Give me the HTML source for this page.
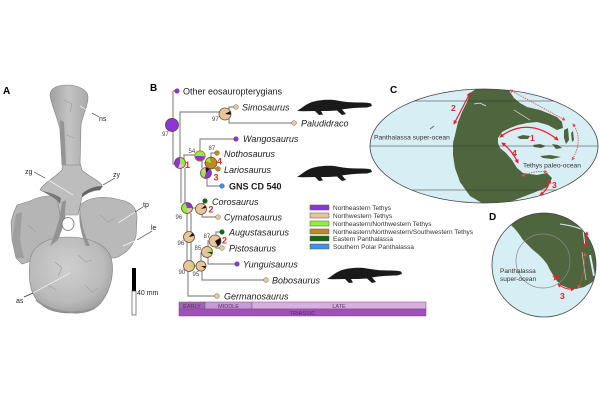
<!DOCTYPE html>
<html>
<head>
<meta charset="utf-8">
<style>
html,body{margin:0;padding:0;background:#fff;}
svg{display:block;}
text{font-family:"Liberation Sans",Arial,sans-serif;}
</style>
</head>
<body>
<svg width="600" height="400" viewBox="0 0 600 400" xmlns="http://www.w3.org/2000/svg">
<defs>
  <radialGradient id="gc" cx="0.45" cy="0.4" r="0.65">
    <stop offset="0" stop-color="#cfcfcf"/>
    <stop offset="0.7" stop-color="#bababa"/>
    <stop offset="1" stop-color="#9c9c9c"/>
  </radialGradient>
  <linearGradient id="gs" x1="0" y1="0" x2="1" y2="0">
    <stop offset="0" stop-color="#a0a0a0"/>
    <stop offset="0.5" stop-color="#c4c4c4"/>
    <stop offset="1" stop-color="#aaaaaa"/>
  </linearGradient>
  <clipPath id="cC"><ellipse cx="484" cy="146" rx="114" ry="57"/></clipPath>
  <clipPath id="cD"><circle cx="544" cy="265" r="52"/></clipPath>
  <marker id="ah" viewBox="0 0 10 10" refX="8" refY="5" markerWidth="3.6" markerHeight="3.6" orient="auto-start-reverse">
    <path d="M0,0 L10,5 L0,10 z" fill="#e8202a"/>
  </marker>
  <marker id="ahd" viewBox="0 0 10 10" refX="8" refY="5" markerWidth="4" markerHeight="4" orient="auto-start-reverse">
    <path d="M0,0 L10,5 L0,10 z" fill="#f04a55"/>
  </marker>
  <path id="sil" d="M0,12 C5,9 9,5 15,3 C22,1 32,0 40,1.5 C48,3 55,3.5 62,3.5 C66,3.5 70,3.5 74,4.5 L75,7 L70,8.5 C62,8.5 55,9 48,10 L45,10.5 L49,15 L45,16 L40,11.5 C34,12 28,12 24,12 L26,15.5 L22,16 L18,12 C12,12 6,12.5 0,12 Z" fill="#1a1a1a"/>
</defs>

<!-- ===== Panel A : vertebra ===== -->
<text x="3" y="94" font-size="10" font-weight="bold">A</text>
<g stroke="#808080" stroke-width="0.6">
  <path d="M17,205 L30,201 C40,196 52,194 62,198 C66,203 66,212 64,222 L58,240 L40,258 L22,264 L16,258 L12,240 L11,222 L14,212 Z" fill="#b5b5b5"/>
  <path d="M80,205 C88,198 100,196 112,198 L125,201 C133,204 137,210 137,218 L136,236 C133,246 126,254 115,258 L100,258 L88,245 C82,235 79,220 80,205 Z" fill="#b9b9b9"/>
  <path d="M40,190 C44,182 55,178 62,170 L63,163 L80,163 L82,170 C88,176 98,180 102,185 L100,190 C95,190 88,192 82,197 L78,215 L60,215 L57,198 C52,194 45,193 40,190 Z" fill="#bdbdbd"/>
  <path d="M50,95 C50,88 58,85 67,85 C78,85 88,90 88,97 C88,106 83,114 81,125 L80,165 L62,165 L60,130 C58,118 51,105 50,95 Z" fill="url(#gs)"/>
  <path d="M30,260 C32,245 48,237 68,237 C90,237 110,245 112,262 C114,275 110,290 103,300 C97,310 85,314 72,313 C58,313 46,310 40,303 C30,295 28,280 30,260 Z" fill="url(#gc)"/>
</g>
<path d="M42,191 C50,196 56,198 60,204 L61,198 C55,194 48,192 42,191 Z" fill="#777"/>
<path d="M82,197 C88,192 95,190 100,190 L103,186 C96,186 88,188 82,194 Z" fill="#666"/>
<path d="M66,200 L64,222 L58,240 L50,246 C56,232 60,218 62,202 Z" fill="#939393"/>
<path d="M80,205 C80,220 84,234 90,246 L86,246 C80,232 78,218 80,205 Z" fill="#939393"/>
<path d="M16,214 L22,212 L20,240 L24,258 L16,258 L12,240 Z" fill="#9e9e9e"/>
<path d="M60,120 L62,165 L66,165 L64,122 Z" fill="#959595"/>
<g fill="none" stroke="#9a9a9a" stroke-width="0.6">
  <path d="M64,100 L72,104 L70,112"/>
  <path d="M66,135 L74,138"/>
  <path d="M55,262 L62,268 L58,276"/>
  <path d="M78,255 L86,262 L92,260"/>
  <path d="M48,285 L56,290"/>
  <path d="M85,285 L92,292 L98,288"/>
  <path d="M100,215 L108,222 L115,218"/>
  <path d="M28,225 L36,232"/>
</g>
<ellipse cx="68" cy="224" rx="6" ry="6.5" fill="#fff" stroke="#6e6e6e" stroke-width="0.8"/>
<path d="M36,300 C50,312 75,316 95,308" fill="none" stroke="#929292" stroke-width="1.5"/>
<g stroke-width="0.7" fill="none">
  <line x1="80" y1="106" x2="92" y2="113" stroke="#fff"/>
  <line x1="92" y1="113" x2="99" y2="117" stroke="#333"/>
  <line x1="34" y1="172" x2="45" y2="178" stroke="#333"/>
  <line x1="45" y1="178" x2="73" y2="195" stroke="#fff"/>
  <line x1="115" y1="178" x2="103" y2="185" stroke="#333"/>
  <line x1="143" y1="207" x2="135" y2="212" stroke="#333"/>
  <line x1="135" y1="212" x2="118" y2="223" stroke="#fff"/>
  <line x1="152" y1="231" x2="137" y2="240" stroke="#333"/>
  <line x1="137" y1="240" x2="123" y2="246" stroke="#fff"/>
  <line x1="24" y1="297" x2="33" y2="293" stroke="#333"/>
  <line x1="33" y1="293" x2="70" y2="273" stroke="#fff"/>
</g>
<g font-size="7" fill="#222">
  <text x="99" y="121">ns</text>
  <text x="25" y="174">zg</text>
  <text x="113" y="177">zy</text>
  <text x="143" y="207">tp</text>
  <text x="151" y="230">le</text>
  <text x="16" y="303">as</text>
  <text x="137" y="295">40 mm</text>
</g>
<rect x="132" y="268" width="4" height="23" fill="#000"/>
<rect x="132" y="291" width="4" height="24" fill="#fff" stroke="#333" stroke-width="0.6"/>

<!-- ===== Panel B : tree ===== -->
<text x="150" y="91" font-size="10" font-weight="bold">B</text>
<g stroke="#8c8c8c" stroke-width="1.2" fill="none">
  <path d="M173,91 H177"/>
  <path d="M173,91 V164 H176"/>
  <path d="M180,158 V112 H220"/>
  <path d="M229,109 V107 H234"/>
  <path d="M229,119 V123 H292"/>
  <path d="M184,159 V155 H195"/>
  <path d="M200,151 V139 H234"/>
  <path d="M202,161 V168"/>
  <path d="M204,163 H206"/>
  <path d="M211,157 V153 H215"/>
  <path d="M214,168 L216,169"/>
  <path d="M207,179 V186 H220"/>
  <path d="M181,168 V203"/>
  <path d="M185,168 V203"/>
  <path d="M192,208 H196"/>
  <path d="M203,204 L204,203"/>
  <path d="M202,214 V217 H216"/>
  <path d="M187,213 V232"/>
  <path d="M191,213 V232"/>
  <path d="M187,242 V261"/>
  <path d="M191,242 V261"/>
  <path d="M194,266 H196"/>
  <path d="M188,271 V296 H215"/>
  <path d="M202,271 V280 H264"/>
  <path d="M201,261 V253 H202"/>
  <path d="M208,257 V264 H235"/>
  <path d="M208,247 V241 H209"/>
  <path d="M216,235 V232 H220"/>
  <path d="M216,247 V248 H220"/>
</g>

<g>
  <circle cx="172" cy="125" r="6.5" fill="#8e35d8"/>
  <circle cx="172" cy="125" r="6.5" fill="none" stroke="#6b4a3a" stroke-width="0.9"/>
  <circle cx="225" cy="114" r="6" fill="#e9c59a"/>
  <circle cx="225" cy="114" r="3" fill="none" stroke="#111" stroke-width="6" stroke-dasharray="1.9 18.85" transform="rotate(-30 225 114)"/>
  <circle cx="225" cy="114" r="6" fill="none" stroke="#6b4a3a" stroke-width="0.8"/>
  <circle cx="180" cy="163" r="5.5" fill="#8e35d8"/>
  <circle cx="180" cy="163" r="2.75" fill="none" stroke="#8ef03a" stroke-width="5.5" stroke-dasharray="5.18 17.28" transform="rotate(-90 180 163)"/>
  <circle cx="180" cy="163" r="2.75" fill="none" stroke="#e9c59a" stroke-width="5.5" stroke-dasharray="4.32 17.28" transform="rotate(18 180 163)"/>
  <circle cx="180" cy="163" r="5.5" fill="none" stroke="#6b4a3a" stroke-width="0.8"/>
  <circle cx="200" cy="156" r="5.2" fill="#8e35d8"/>
  <circle cx="200" cy="156" r="2.6" fill="none" stroke="#8ef03a" stroke-width="5.2" stroke-dasharray="8.17 16.34" transform="rotate(180 200 156)"/>
  <circle cx="200" cy="156" r="5.2" fill="none" stroke="#b07a2a" stroke-width="0.9"/>
  <circle cx="211" cy="163" r="5.8" fill="#c28a1e"/>
  <circle cx="211" cy="163" r="2.9" fill="none" stroke="#8ef03a" stroke-width="5.8" stroke-dasharray="2.73 18.22" transform="rotate(200 211 163)"/>
  <circle cx="211" cy="163" r="5.8" fill="none" stroke="#6b4a3a" stroke-width="0.8"/>
  <circle cx="206" cy="173" r="5.5" fill="#8e35d8"/>
  <circle cx="206" cy="173" r="2.75" fill="none" stroke="#8ef03a" stroke-width="5.5" stroke-dasharray="4.32 17.28" transform="rotate(110 206 173)"/>
  <circle cx="206" cy="173" r="2.75" fill="none" stroke="#e9c59a" stroke-width="5.5" stroke-dasharray="3.11 17.28" transform="rotate(200 206 173)"/>
  <circle cx="206" cy="173" r="2.75" fill="none" stroke="#111" stroke-width="5.5" stroke-dasharray="2.07 17.28" transform="rotate(265 206 173)"/>
  <circle cx="206" cy="173" r="5.5" fill="none" stroke="#6b4a3a" stroke-width="0.8"/>
  <circle cx="187" cy="208" r="5.5" fill="#e9c59a"/>
  <circle cx="187" cy="208" r="2.75" fill="none" stroke="#8ef03a" stroke-width="5.5" stroke-dasharray="7.78 17.28" transform="rotate(90 187 208)"/>
  <circle cx="187" cy="208" r="2.75" fill="none" stroke="#8e35d8" stroke-width="5.5" stroke-dasharray="5.18 17.28" transform="rotate(252 187 208)"/>
  <circle cx="187" cy="208" r="5.5" fill="none" stroke="#6b4a3a" stroke-width="0.8"/>
  <circle cx="201" cy="209" r="5.5" fill="#e9c59a"/>
  <circle cx="201" cy="209" r="2.75" fill="none" stroke="#111" stroke-width="5.5" stroke-dasharray="1.38 17.28" transform="rotate(-40 201 209)"/>
  <circle cx="201" cy="209" r="5.5" fill="none" stroke="#6b4a3a" stroke-width="0.8"/>
  <circle cx="189" cy="237" r="5.5" fill="#e9c59a"/>
  <circle cx="189" cy="237" r="2.75" fill="none" stroke="#111" stroke-width="5.5" stroke-dasharray="1.73 17.28" transform="rotate(-50 189 237)"/>
  <circle cx="189" cy="237" r="5.5" fill="none" stroke="#6b4a3a" stroke-width="0.8"/>
  <circle cx="189" cy="266" r="5.5" fill="#e9c59a"/>
  <circle cx="189" cy="266" r="2.75" fill="none" stroke="#8ef03a" stroke-width="5.5" stroke-dasharray="1.38 17.28" transform="rotate(-20 189 266)"/>
  <circle cx="189" cy="266" r="5.5" fill="none" stroke="#6b4a3a" stroke-width="0.8"/>
  <circle cx="201" cy="266" r="5" fill="#e9c59a"/>
  <circle cx="201" cy="266" r="2.5" fill="none" stroke="#111" stroke-width="5" stroke-dasharray="1.26 15.71" transform="rotate(0 201 266)"/>
  <circle cx="201" cy="266" r="5" fill="none" stroke="#6b4a3a" stroke-width="0.8"/>
  <circle cx="207" cy="252" r="5.5" fill="#e9c59a"/>
  <circle cx="207" cy="252" r="2.75" fill="none" stroke="#8ef03a" stroke-width="5.5" stroke-dasharray="2.07 17.28" transform="rotate(-40 207 252)"/>
  <circle cx="207" cy="252" r="2.75" fill="none" stroke="#111" stroke-width="5.5" stroke-dasharray="1.04 17.28" transform="rotate(3 207 252)"/>
  <circle cx="207" cy="252" r="5.5" fill="none" stroke="#6b4a3a" stroke-width="0.8"/>
  <circle cx="215" cy="241" r="6" fill="#e9c59a"/>
  <circle cx="215" cy="241" r="3" fill="none" stroke="#111" stroke-width="6" stroke-dasharray="4.71 18.85" transform="rotate(-30 215 241)"/>
  <circle cx="215" cy="241" r="6" fill="none" stroke="#6b4a3a" stroke-width="0.8"/>
</g>

<g stroke="#555" stroke-width="0.4">
  <circle cx="177" cy="91" r="2.4" fill="#8e35d8"/>
  <circle cx="236" cy="107" r="2.4" fill="#e9c59a"/>
  <circle cx="294" cy="123" r="2.4" fill="#e9c59a"/>
  <circle cx="236" cy="139" r="2.4" fill="#8e35d8"/>
  <circle cx="217" cy="153" r="2.4" fill="#c28a1e"/>
  <circle cx="218" cy="169" r="2.4" fill="#c28a1e"/>
  <circle cx="222" cy="186" r="2.4" fill="#3a93ec"/>
  <circle cx="205" cy="201" r="2.4" fill="#0f6a12"/>
  <circle cx="218" cy="217" r="2.4" fill="#e9c59a"/>
  <circle cx="222" cy="232" r="2.4" fill="#0f6a12"/>
  <circle cx="222" cy="248" r="2.4" fill="#e9c59a"/>
  <circle cx="237" cy="264" r="2.4" fill="#8e35d8"/>
  <circle cx="266" cy="280" r="2.4" fill="#e9c59a"/>
  <circle cx="217" cy="296" r="2.4" fill="#e9c59a"/>
</g>

<g font-size="9" fill="#1a1a1a" font-style="italic">
  <text x="183" y="94.5" font-style="normal">Other eosauropterygians</text>
  <text x="242" y="110.5">Simosaurus</text>
  <text x="301" y="126.5">Paludidraco</text>
  <text x="243" y="142">Wangosaurus</text>
  <text x="224" y="157">Nothosaurus</text>
  <text x="224" y="173">Lariosaurus</text>
  <text x="229" y="189.5" font-style="normal" font-weight="bold">GNS CD 540</text>
  <text x="212" y="205">Corosaurus</text>
  <text x="224" y="220.5">Cymatosaurus</text>
  <text x="229" y="235.5">Augustasaurus</text>
  <text x="229" y="251.5">Pistosaurus</text>
  <text x="243" y="267.5">Yunguisaurus</text>
  <text x="272" y="283.5">Bobosaurus</text>
  <text x="224" y="299.5">Germanosaurus</text>
</g>

<g font-size="6" fill="#444">
  <text x="162" y="136">97</text>
  <text x="212" y="121">97</text>
  <text x="188.5" y="153">54</text>
  <text x="208.5" y="150">87</text>
  <text x="175.5" y="219">96</text>
  <text x="177.5" y="245">96</text>
  <text x="203.5" y="238">87</text>
  <text x="194.5" y="250">85</text>
  <text x="178.5" y="274">90</text>
  <text x="192.5" y="276">95</text>
</g>
<g font-size="9" font-weight="bold" fill="#e52a2a">
  <text x="185" y="168">1</text>
  <text x="217" y="164.5">4</text>
  <text x="213.5" y="180.5">3</text>
  <text x="208.5" y="212.5">2</text>
  <text x="222" y="243.5">2</text>
</g>

<use href="#sil" transform="translate(297,99)"/>
<use href="#sil" transform="translate(297,165)"/>
<use href="#sil" transform="translate(327,267)"/>

<g stroke="#555" stroke-width="0.5">
  <rect x="310" y="205" width="19" height="5" fill="#8e35d8"/>
  <rect x="310" y="213" width="19" height="5" fill="#e9c59a"/>
  <rect x="310" y="221" width="19" height="5" fill="#8ef03a"/>
  <rect x="310" y="229" width="19" height="5" fill="#c28a1e"/>
  <rect x="310" y="236" width="19" height="5" fill="#0f6a12"/>
  <rect x="310" y="244" width="19" height="5" fill="#3a93ec"/>
</g>
<g font-size="6.5" fill="#333">
  <text x="333" y="210">Northeastern Tethys</text>
  <text x="333" y="218">Northwestern Tethys</text>
  <text x="333" y="226">Northeastern/Northwestern Tethys</text>
  <text x="333" y="234">Northeastern/Northwestern/Southwestern Tethys</text>
  <text x="333" y="241">Eastern Panthalassa</text>
  <text x="333" y="249">Southern Polar Panthalassa</text>
</g>

<g stroke="#7a4a8a" stroke-width="0.5">
  <rect x="179" y="302" width="26" height="7" fill="#a064b0"/>
  <rect x="205" y="302" width="47" height="7" fill="#c89ad4"/>
  <rect x="252" y="302" width="174" height="7" fill="#d8b0e0"/>
  <rect x="179" y="309" width="247" height="7" fill="#a050b8"/>
</g>
<g font-size="5.5" fill="#5a2a6a" text-anchor="middle">
  <text x="192" y="307.8">EARLY</text>
  <text x="228.5" y="307.8">MIDDLE</text>
  <text x="339" y="307.8">LATE</text>
  <text x="302.5" y="314.8">TRIASSIC</text>
</g>

<!-- ===== Panel C : map ===== -->
<text x="390" y="93" font-size="10" font-weight="bold">C</text>
<ellipse cx="484" cy="146" rx="114" ry="57" fill="#d8eef5"/>
<g clip-path="url(#cC)">
  <path d="M470,93 L476,89 L485,86 L507,86 L510,92 L514,98 L520,103 L527,107 L540,110 L550,114 L557,117 L562,122 L563,128 L557,130 L548,125 L537,122 L527,123 L518,125 L510,128 L502,132 L498,138 L498,143 L500,148 L506,153 L512,160 L517,168 L523,173 L537,175 L547,173 L552,178 L548,187 L533,193 L520,198 L507,203 L487,206 L470,196 L460,182 L455,168 L453,155 L453,143 L455,135 L458,122 L462,112 L467,102 Z" fill="#4f653d"/>
  <g fill="#4f653d">
    <path d="M517,137 L523,135 L530,136 L528,139 L520,139 Z"/>
    <path d="M533,145 L540,144 L546,146 L541,148 L534,147 Z"/>
    <path d="M552,144 L558,145 L562,148 L556,149 Z"/>
    <path d="M540,156 L550,155 L561,157 L552,159 L543,158 Z"/>
    <path d="M564,130 L568,128 L569,140 L566,144 L564,138 Z"/>
    <path d="M571,133 L573,131 L574,140 L572,142 Z"/>
  </g>
  <path d="M474,104 L480,103 L486,106" fill="none" stroke="#d8eef5" stroke-width="0.8"/>
  <path d="M514,110 Q522,115 530,120" fill="none" stroke="#d8eef5" stroke-width="0.7"/>
  <path d="M430,129 L434,126" stroke="#4f653d" stroke-width="0.8"/>
  <g stroke="#333" stroke-width="0.6">
    <line x1="360" y1="101" x2="600" y2="101"/>
    <line x1="360" y1="146" x2="600" y2="146"/>
    <line x1="360" y1="190" x2="600" y2="190"/>
  </g>
</g>
<ellipse cx="484" cy="146" rx="114" ry="57" fill="none" stroke="#444" stroke-width="0.8"/>
<g fill="none" stroke="#e8202a" stroke-width="1.2">
  <path d="M500,137 Q528,116 558,140" marker-start="url(#ah)" marker-end="url(#ah)"/>
  <path d="M470,93 L454,124" marker-start="url(#ah)" marker-end="url(#ah)"/>
  <path d="M502,143 Q512,150 518,163" marker-start="url(#ah)" marker-end="url(#ah)"/>
  <path d="M540,195 Q548,190 550,180" marker-start="url(#ah)" marker-end="url(#ah)"/>
</g>
<g fill="none" stroke="#f04a55" stroke-width="0.9" stroke-dasharray="1.4 1">
  <path d="M510,90 L565,120" marker-start="url(#ahd)" marker-end="url(#ahd)"/>
  <path d="M573,124 Q584,140 572,160" marker-start="url(#ahd)" marker-end="url(#ahd)"/>
  <path d="M522,176 Q535,170 547,172" marker-start="url(#ahd)" marker-end="url(#ahd)"/>
</g>
<g font-size="8.5" font-weight="bold" fill="#e8202a">
  <text x="530" y="141">1</text>
  <text x="451" y="111">2</text>
  <text x="512" y="156">4</text>
  <text x="552" y="188">3</text>
</g>
<g font-size="6.7" fill="#333">
  <text x="374" y="139.5">Panthalassa super-ocean</text>
  <text x="523" y="167.5">Tethys paleo-ocean</text>
</g>

<!-- ===== Panel D ===== -->
<text x="489" y="220" font-size="10" font-weight="bold">D</text>
<circle cx="544" cy="265" r="52" fill="#d8eef5"/>
<g clip-path="url(#cD)">
  <path d="M503,205 L506,218 L510,224 L515,229 L519,234 L523,240 L528,245 L533,250 L538,254 L543,259 L547,264 L550,270 L553,275 L556,280 L561,285 L568,288 L576,289 L584,287 L591,283 L598,277 L600,270 L600,200 Z" fill="#4f653d"/>
  <path d="M560,224 Q575,226 583,230 L585,246" fill="none" stroke="#d8eef5" stroke-width="1"/>
  <path d="M590,255 L594,276" fill="none" stroke="#d8eef5" stroke-width="2"/>
  <path d="M582,252 L586,280" fill="none" stroke="#b9d3c8" stroke-width="0.8"/>
</g>
<circle cx="543" cy="261" r="27" fill="none" stroke="#8a8a8a" stroke-width="0.7"/>
<circle cx="544" cy="265" r="52" fill="none" stroke="#444" stroke-width="0.8"/>
<polygon points="556,273.5 557,276.2 560,276.3 557.6,278 558.5,280.8 556,279.2 553.5,280.8 554.4,278 552,276.3 555,276.2" fill="#e8202a"/>
<g fill="none" stroke="#e8202a" stroke-width="1.1">
  <path d="M558,284 Q565,290 574,289" marker-start="url(#ah)" marker-end="url(#ah)"/>
  <path d="M587,232 L585,247" marker-start="url(#ah)" marker-end="url(#ah)"/>
</g>
<path d="M585,253 Q585,275 578,288" fill="none" stroke="#f04a55" stroke-width="0.9" stroke-dasharray="1.4 1" marker-start="url(#ahd)" marker-end="url(#ahd)"/>
<text x="560" y="299" font-size="8.5" font-weight="bold" fill="#e8202a">3</text>
<g font-size="6.5" fill="#333">
  <text x="500" y="273">Panthalassa</text>
  <text x="500" y="281">super-ocean</text>
</g>
</svg>
</body>
</html>
